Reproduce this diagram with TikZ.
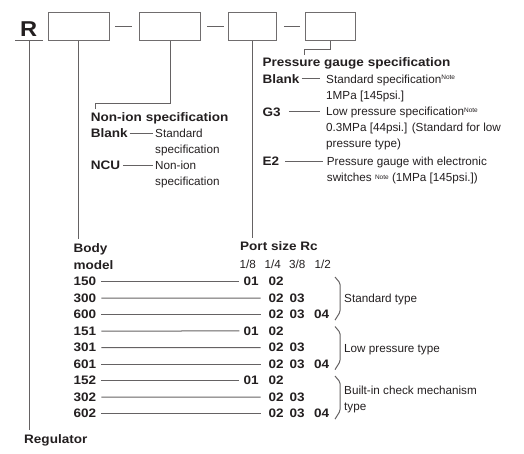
\documentclass[tikz,border=0pt]{standalone}
\usepackage{fontspec}
\setmainfont{Liberation Sans}[BoldFeatures={FakeStretch=1.1}]
\definecolor{ink}{HTML}{231F20}
\newcommand\txtfont{\fontsize{11.7}{16}\selectfont}
\newcommand\keyfont{\fontsize{12.3}{17}\selectfont\bfseries}
\newcommand\bigfont{\fontsize{21.5}{24}\selectfont\bfseries}
\newcommand\notetag{\raisebox{3.5pt}{\fontsize{6.5}{7}\selectfont Note}}
\begin{document}
\begin{tikzpicture}[x=1pt,y=-1pt,
    codebox/.style={draw=ink!65,line width=1pt,inner sep=0,minimum height=27.3pt},
    lead/.style={draw=ink!70,line width=1pt},
    txt/.style={inner sep=0,anchor=base west,align=left,font=\txtfont,text=ink},
    key/.style={txt,font=\keyfont}]
	\useasboundingbox (0,0) rectangle (524,453);
	% model code boxes
	\node[key,font=\bigfont,anchor=base] (r) at (28.7,36.7) {R};
	\coordinate (rl) at (15,40);
	\coordinate (rr) at (42.7,40);
	\coordinate (rdown) at (29,40);
	\draw[lead] (rl) -- (rr);
	\node[codebox,minimum width=60.3pt] (b1) at (78.9,26.4) {};
	\node[codebox,minimum width=61.4pt] (b2) at (170,26.4) {};
	\node[codebox,minimum width=48.4pt] (b3) at (252.5,26.4) {};
	\node[codebox,minimum width=50pt] (b4) at (330.3,26.4) {};
	\draw[lead] ([xshift=5.3pt]b1.east) -- ([xshift=-7pt]b2.west);
	\draw[lead] ([xshift=6pt]b2.east) -- ([xshift=-4.3pt]b3.west);
	\draw[lead] ([xshift=6.6pt]b3.east) -- ([xshift=-4.6pt]b4.west);

	% pressure gauge (multi-line texts sit on their last line)
	\node[key] (pg) at (262.3,66) {Pressure gauge specification};
	\node[key] (gb) at (262.3,83.3) {Blank};
	\node[txt] (gbd) at (326,99.3) {Standard specification\notetag\\1MPa [145psi.]};
	\node[key] (g3) at (262.3,116) {G3};
	\node[txt] (g3d) at (326,147.7) {Low pressure specification\notetag\\0.3MPa [44psi.] (Standard for low\\pressure type)};
	\node[key] (e2) at (262.3,165.7) {E2};
	\node[txt] (e2d) at (326.7,181.7) {Pressure gauge with electronic\\switches \raisebox{2pt}{\fontsize{6.5}{7}\selectfont Note} (1MPa [145psi.])};
	\coordinate (pk) at (304.3,49.3);
	\draw[lead] (b4.south) |- (pk) -- ([yshift=2pt]pk |- pg.north);
	\draw[lead] ([xshift=2pt]gb.east) -- ([xshift=-6pt]gb.east -| gbd.west);
	\draw[lead] ([xshift=8pt]g3.east) -- ([xshift=-6pt]g3.east -| g3d.west);
	\draw[lead] ([xshift=6pt]e2.east) -- ([xshift=-3.4pt]e2.east -| e2d.west);

	% non-ion
	\node[key] (nion) at (90.7,121.5) {Non-ion specification};
	\node[key] (nb) at (90.7,137.7) {Blank};
	\node[txt] (nbd) at (155,153.5) {Standard\\specification};
	\node[key] (nc) at (90.7,169.3) {NCU};
	\node[txt] (ncd) at (155,185.2) {Non-ion\\specification};
	\coordinate (nk) at (95,103.3);
	\draw[lead] (b2.south) |- (nk) -- ([yshift=3.5pt]nk |- nion.north);
	\draw[lead] ([xshift=1.6pt]nb.east) -- ([xshift=-2.3pt]nb.east -| nbd.west);
	\draw[lead] ([xshift=2.4pt]nc.east) -- ([xshift=-2.3pt]nc.east -| ncd.west);

	% body model and port size
	\node[key] (body) at (73.3,269) {Body\\model};
	\node[key] (port) at (240,250.7) {Port size Rc};
	\foreach \s/\x [count=\i] in {{1/8}/239.3,{1/4}/264.3,{3/8}/289,{1/2}/314.3}
		\node[txt] (ps\i) at (\x,268.3) {\s};
	\draw[lead] (b1.south) -- ([yshift=4pt]b1.south |- body.north);
	\draw[lead] (b3.south) -- ([yshift=4pt]b3.south |- port.north);
	\foreach \g in {0,1,2}{
		\pgfmathsetmacro\ya{285.7+49.5*\g}
		\pgfmathsetmacro\yb{\ya+16.6}
		\pgfmathsetmacro\yc{\ya+33.1}
		\node[key] (ma\g) at (73.3,\ya) {15\g};
		\node[key] (mb\g) at (73.3,\yb) {30\g};
		\node[key] (mc\g) at (73.3,\yc) {60\g};
		\node[key] (ka\g) at (243.3,\ya) {01};
		\node[key] (kaa\g) at (268.3,\ya) {02};
		\node[key] (kb\g) at (268.3,\yb) {02};
		\node[key] (kbb\g) at (289.3,\yb) {03};
		\node[key] (kc\g) at (268.3,\yc) {02};
		\node[key] (kcc\g) at (289.3,\yc) {03};
		\node[key] (kccc\g) at (314,\yc) {04};
		\draw[lead] ([xshift=5pt]ma\g.east) -- ([xshift=-4pt]ka\g.west);
		\draw[lead] ([xshift=5pt]mb\g.east) -- ([xshift=-7.6pt]kb\g.west);
		\draw[lead] ([xshift=5pt]mc\g.east) -- ([xshift=-7.6pt]kc\g.west);
		\draw[lead,rounded corners=1.5pt] (335,\ya-8.7) -- (340,\ya-2.7) -- (340,\yc-6.7) -- (335,\yc+1.3);
	}
	\node[txt] (tstd) at (344,302.7) {Standard type};
	\node[txt] (tlow) at (344,352.7) {Low pressure type};
	\node[txt] (tchk) at (344,410) {Built-in check mechanism\\type};

	% regulator
	\node[key] (reg) at (24,443) {Regulator};
	\draw[lead] (rdown) -- ([yshift=4pt]rdown |- reg.north);
\end{tikzpicture}
\end{document}
